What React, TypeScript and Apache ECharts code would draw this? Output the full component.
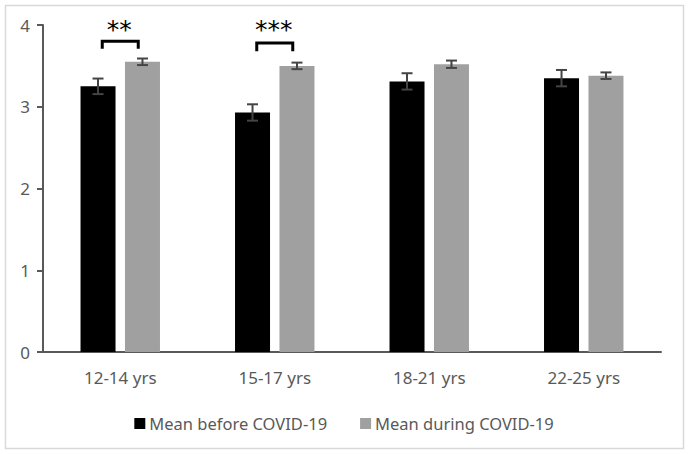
import React, { useEffect, useRef } from "react";
import * as echarts from "echarts";

const categories = ["12-14 yrs", "15-17 yrs", "18-21 yrs", "22-25 yrs"];
const meanBefore = [3.25, 2.93, 3.31, 3.35];
const meanDuring = [3.55, 3.5, 3.52, 3.38];
const errBefore = [0.095, 0.1, 0.1, 0.1];
const errDuring = [0.04, 0.04, 0.045, 0.04];
const yTicks = [0, 1, 2, 3, 4];
const sigGroups = [0, 1];
const sigLabels = ["**", "***"];
const sigTop = [3.8, 3.78];
const sigBottom = [3.71, 3.68];
const sigStar = [3.95, 3.94];

const FONT = "'Noto Sans', sans-serif";
const BAR_W = 35;
const BAR_GAP = 0.27;

export default function App() {
  const ref = useRef<HTMLDivElement>(null);
  useEffect(() => {
    document.body.style.margin = "0";
    if (!ref.current) return;
    const chart = echarts.init(ref.current, undefined, { renderer: "svg" });
    const offset = (BAR_W + BAR_W * BAR_GAP) / 2;

    const errSeries = (means: number[], errs: number[], sign: number) => ({
      type: "custom",
      z: 10,
      silent: true,
      encode: { x: 0, y: 1 },
      data: means.map((m, i) => [i, m, errs[i]]),
      renderItem: (params: any, api: any) => {
        const i = api.value(0);
        const m = api.value(1);
        const e = api.value(2);
        const hi = api.coord([i, m + e]);
        const lo = api.coord([i, m - e]);
        const x = hi[0] + sign * offset;
        const cap = 5.5;
        const st = { stroke: "#444444", lineWidth: 2 };
        return {
          type: "group",
          children: [
            { type: "line", shape: { x1: x, y1: hi[1], x2: x, y2: lo[1] }, style: st },
            { type: "line", shape: { x1: x - cap, y1: hi[1], x2: x + cap, y2: hi[1] }, style: st },
            { type: "line", shape: { x1: x - cap, y1: lo[1], x2: x + cap, y2: lo[1] }, style: st },
          ],
        };
      },
    });

    chart.setOption({
      animation: false,
      backgroundColor: "#ffffff",
      graphic: [
        {
          type: "rect",
          shape: { x: 5.5, y: 5.5, width: 678, height: 443 },
          style: { fill: "none", stroke: "#d9d9d9", lineWidth: 1.5 },
          z: -1,
        },
      ],
      grid: { left: 43, right: 27, top: 25, bottom: 102 },
      legend: {
        data: ["Mean before COVID-19", "Mean during COVID-19"],
        left: "center",
        top: 410,
        itemWidth: 11,
        itemHeight: 11,
        itemGap: 33,
        icon: "rect",
        textStyle: { fontFamily: FONT, fontSize: 16.5, color: "#595959", padding: [0, 0, 0, -1] },
      },
      xAxis: {
        type: "category",
        data: categories,
        axisLine: { lineStyle: { color: "#595959", width: 2 } },
        axisTick: { show: false },
        axisLabel: { fontFamily: FONT, fontSize: 17, color: "#595959", margin: 17 },
        splitLine: { show: false },
      },
      yAxis: {
        type: "value",
        min: yTicks[0],
        max: yTicks[yTicks.length - 1],
        interval: 1,
        axisLine: { show: true, lineStyle: { color: "#595959", width: 2 } },
        axisTick: { show: true, length: 6, lineStyle: { color: "#595959", width: 2 } },
        axisLabel: { fontFamily: FONT, fontSize: 17, color: "#595959", margin: 13 },
        splitLine: { show: false },
      },
      series: [
        {
          name: "Mean before COVID-19",
          type: "bar",
          data: meanBefore,
          barWidth: BAR_W,
          barGap: BAR_GAP * 100 + "%",
          itemStyle: { color: "#000000" },
        },
        {
          name: "Mean during COVID-19",
          type: "bar",
          data: meanDuring,
          barWidth: BAR_W,
          itemStyle: { color: "#a0a0a0" },
        },
        errSeries(meanBefore, errBefore, -1),
        errSeries(meanDuring, errDuring, 1),
        {
          type: "custom",
          z: 10,
          silent: true,
          encode: { x: 0, y: 1 },
          data: sigGroups.map((g, k) => [g, sigTop[k], sigBottom[k], sigStar[k]]),
          renderItem: (params: any, api: any) => {
            const i = api.value(0);
            const top = api.coord([i, api.value(1)]);
            const bot = api.coord([i, api.value(2)]);
            const star = api.coord([i, api.value(3)]);
            const h = 18;
            const x = top[0];
            return {
              type: "group",
              children: [
                {
                  type: "polyline",
                  shape: {
                    points: [
                      [x - h, bot[1]],
                      [x - h, top[1]],
                      [x + h, top[1]],
                      [x + h, bot[1]],
                    ],
                  },
                  style: { stroke: "#000000", lineWidth: 3, fill: "none" },
                },
                {
                  type: "text",
                  x: x - 1,
                  y: star[1],
                  style: {
                    text: sigLabels[params.dataIndex],
                    fontFamily: "'DejaVu Sans', sans-serif",
                    fontSize: 25,
                    fill: "#000000",
                    align: "center",
                    verticalAlign: "middle",
                  },
                },
              ],
            };
          },
        },
      ],
    });
    return () => chart.dispose();
  }, []);
  return <div ref={ref} style={{ width: 688, height: 454 }} />;
}
